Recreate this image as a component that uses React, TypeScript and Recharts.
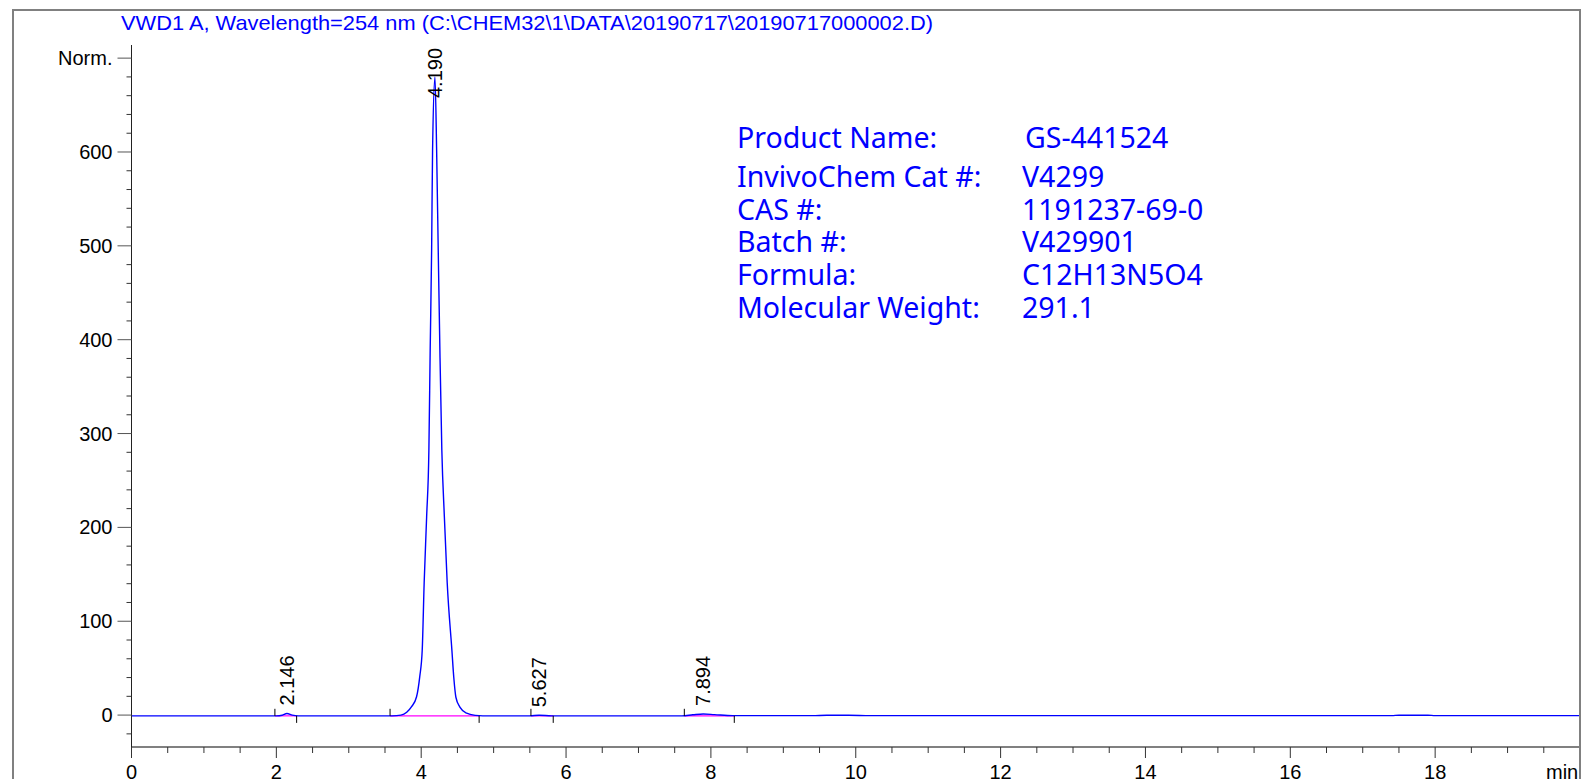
import { LineChart, Line, XAxis, YAxis, ReferenceLine, ReferenceDot } from 'recharts';

// retention time (min) and detector signal
const TIMES = [
  0, 1.0, 2.0, 2.08, 2.146, 2.22, 2.3, 3.0, 3.6, 3.72, 3.8, 3.867, 3.936, 3.98, 4.014, 4.041,
  4.075, 4.106, 4.124, 4.144, 4.157, 4.19, 4.213, 4.235, 4.258, 4.285, 4.32, 4.359, 4.424,
  4.45, 4.479, 4.534, 4.627, 4.75, 4.85, 5.5, 5.627, 5.8, 7.6, 7.75, 7.894, 8.05, 8.3, 9.4,
  9.6, 9.9, 10.2, 14.0, 17.4, 17.5, 17.9, 18.0, 20.0,
];
const SIGNAL = [
  -0.8, -0.8, -0.8, -0.2, 1.7, 0.0, -0.8, -0.8, -0.8, 0, 3, 9, 19.5, 41, 69, 141,
  211, 282, 389, 496, 602, 680, 602, 496, 389, 282, 211, 141, 69,
  40, 19, 8.5, 2, -0.3, -0.8, -0.8, -0.2, -0.8, -0.8, 0.3, 1.2, 0.5, -0.6, -0.6,
  -0.2, -0.2, -0.6, -0.6, -0.6, -0.1, -0.1, -0.6, -0.6,
];

const X_TICKS = [
  0, 0.5, 1, 1.5, 2, 2.5, 3, 3.5, 4, 4.5, 5, 5.5, 6, 6.5, 7, 7.5, 8, 8.5, 9, 9.5, 10,
  10.5, 11, 11.5, 12, 12.5, 13, 13.5, 14, 14.5, 15, 15.5, 16, 16.5, 17, 17.5, 18, 18.5, 19, 19.5, 20,
];
const Y_TICKS = [
  -20, 0, 20, 40, 60, 80, 100, 120, 140, 160, 180, 200, 220, 240, 260, 280, 300, 320, 340,
  360, 380, 400, 420, 440, 460, 480, 500, 520, 540, 560, 580, 600, 620, 640, 660, 680, 700,
];

const PEAK_RT = [2.146, 4.19, 5.627, 7.894];
const PEAK_LABELS = ['2.146', '4.190', '5.627', '7.894'];
const PEAK_APEX = [1.7, 680, -0.2, 1.2];
const PEAK_START = [1.98, 3.57, 5.515, 7.633];
const PEAK_END = [2.28, 4.8, 5.823, 8.323];
const BASE = -0.8;

const TITLE = 'VWD1 A, Wavelength=254 nm (C:\\CHEM32\\1\\DATA\\20190717\\20190717000002.D)';
const INFO_KEYS = ['Product Name:', 'InvivoChem Cat #:', 'CAS #:', 'Batch #:', 'Formula:', 'Molecular Weight:'];
const INFO_VALUES = ['GS-441524', 'V4299', '1191237-69-0', 'V429901', 'C12H13N5O4', '291.1'];
const INFO_Y = [148, 187, 220, 252, 285, 318];

const data = TIMES.map((t, i) => ({ t, v: SIGNAL[i] }));

const AXIS_FONT = '"Liberation Sans", Arial, sans-serif';
const BLUE = '#0000ff';

function XTick({ x, y, payload }: any) {
  const major = payload.value % 2 === 0;
  // last major tick sits under the "min" unit label, so no number there
  const showLabel = major && payload.value < 20;
  return (
    <g>
      <line x1={x} x2={x} y1={y} y2={y + (major ? 11 : 6)} stroke="#333" strokeWidth={1} />
      {showLabel && (
        <text x={x} y={y + 32} textAnchor="middle" fontSize={20} fontFamily={AXIS_FONT} fill="#000">
          {payload.value}
        </text>
      )}
    </g>
  );
}

function YTick({ x, y, payload }: any) {
  const major = payload.value % 100 === 0;
  return (
    <g>
      <line x1={x - (major ? 14 : 5)} x2={x} y1={y} y2={y} stroke={major ? '#555' : '#333'} strokeWidth={1} />
      {major && (
        <text x={x - 19} y={y + 7} textAnchor="end" fontSize={20} fontFamily={AXIS_FONT} fill="#000">
          {payload.value === 700 ? 'Norm.' : payload.value}
        </text>
      )}
    </g>
  );
}

function peakLabel(text: string) {
  return ({ cx, cy }: any) => {
    const y = Math.max(cy - 8, 98);
    return (
      <text
        transform={`translate(${cx + 7},${y}) rotate(-90)`}
        fontSize={20}
        fontFamily={AXIS_FONT}
        fill="#000"
      >
        {text}
      </text>
    );
  };
}

export default function App() {
  return (
    <div style={{ position: 'relative', width: 1581, height: 779, background: '#fff', overflow: 'hidden' }}>
      <style>{'body{margin:0}'}</style>
      <LineChart
        width={1581}
        height={779}
        data={data}
        margin={{ top: 45, right: 1, left: 71.5, bottom: 2 }}
      >
        <XAxis
          type="number"
          dataKey="t"
          domain={[0, 20]}
          ticks={X_TICKS}
          allowDataOverflow
          height={30}
          tickSize={0}
          tickMargin={0}
          tickLine={false}
          tick={<XTick />}
          interval={0}
          axisLine={{ stroke: '#808080', strokeWidth: 2 }}
        />
        <YAxis
          type="number"
          domain={[-34, 714]}
          ticks={Y_TICKS}
          allowDataOverflow
          width={60}
          tickSize={0}
          tickMargin={0}
          tickLine={false}
          tick={<YTick />}
          interval={0}
          axisLine={{ stroke: '#222', strokeWidth: 1 }}
        />
        {PEAK_RT.map((rt, i) => (
          <ReferenceLine
            key={`b${i}`}
            segment={[{ x: PEAK_START[i], y: BASE }, { x: PEAK_END[i], y: BASE }]}
            stroke="#ff00ff"
            strokeWidth={1.2}
          />
        ))}
        <Line
          dataKey="v"
          type="monotone"
          stroke={BLUE}
          strokeWidth={1.4}
          dot={false}
          isAnimationActive={false}
        />
        {PEAK_RT.map((rt, i) => (
          <ReferenceLine
            key={`s${i}`}
            segment={[{ x: PEAK_START[i], y: BASE }, { x: PEAK_START[i], y: BASE + 7.5 }]}
            stroke="#000"
            strokeWidth={1}
          />
        ))}
        {PEAK_RT.map((rt, i) => (
          <ReferenceLine
            key={`e${i}`}
            segment={[{ x: PEAK_END[i], y: BASE }, { x: PEAK_END[i], y: BASE - 7.5 }]}
            stroke="#000"
            strokeWidth={1}
          />
        ))}
        {PEAK_RT.map((rt, i) => (
          <ReferenceDot key={`p${i}`} x={rt} y={PEAK_APEX[i]} r={1} shape={peakLabel(PEAK_LABELS[i])} />
        ))}
      </LineChart>
      <svg
        width={1581}
        height={779}
        style={{ position: 'absolute', left: 0, top: 0, pointerEvents: 'none' }}
      >
        <path d="M13,779 L13,10 L1580,10 L1580,779" fill="none" stroke="#808080" strokeWidth={2} />
        <text x={121} y={30} fontSize={21} fontFamily={AXIS_FONT} fill={BLUE} textLength={812} lengthAdjust="spacingAndGlyphs">
          {TITLE}
        </text>
        <text x={1546} y={779} fontSize={20} fontFamily={AXIS_FONT} fill="#000">min</text>
        {INFO_KEYS.map((k, i) => (
          <g key={k} fontFamily='"Noto Sans", sans-serif' fontSize={28.5} fill={BLUE}>
            <text x={737} y={INFO_Y[i]}>{k}</text>
            <text x={i === 0 ? 1025 : 1022} y={INFO_Y[i]}>{INFO_VALUES[i]}</text>
          </g>
        ))}
      </svg>
    </div>
  );
}
